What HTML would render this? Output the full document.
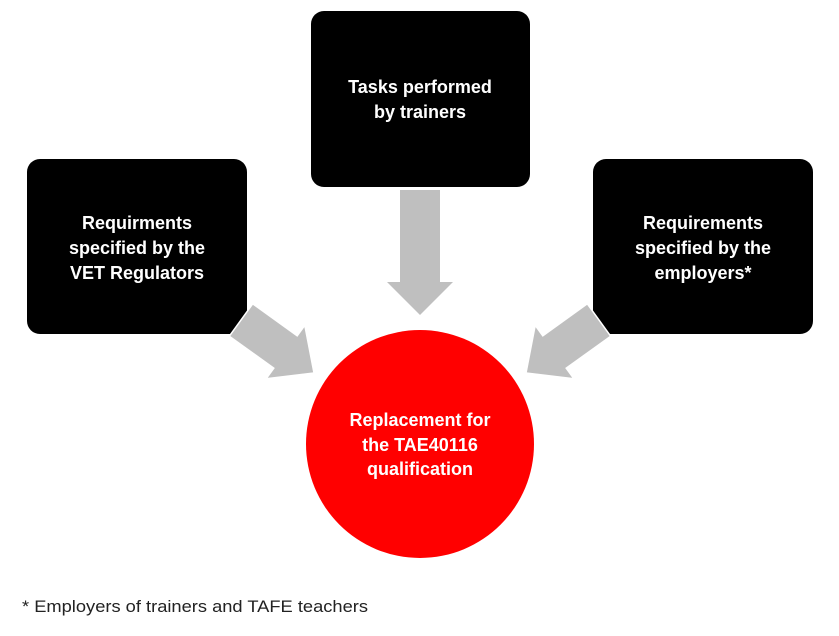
<!DOCTYPE html>
<html><head><meta charset="utf-8"><style>
html,body{margin:0;padding:0;background:#fff;width:839px;height:636px;overflow:hidden}
text{font-family:"Liberation Sans",sans-serif;}
</style></head><body>
<svg width="839" height="636" viewBox="0 0 839 636" xmlns="http://www.w3.org/2000/svg">
<rect x="311" y="11" width="219" height="176" rx="13" fill="#000"/>
<rect x="27" y="159" width="220" height="175" rx="13" fill="#000"/>
<rect x="593" y="159" width="220" height="175" rx="13" fill="#000"/>
<polygon points="400,190 440,190 440,282 453,282 420,315 387,282 400,282" fill="#bfbfbf"/>
<polygon points="252.7,303.8 297.2,335.8 304.8,325.3 314,373 266.2,378.7 273.8,368.2 229.3,336.2" fill="#bfbfbf" stroke="#fff" stroke-width="1.5"/>
<polygon points="587.3,303.8 542.8,335.8 535.2,325.3 526,373 573.8,378.7 566.2,368.2 610.7,336.2" fill="#bfbfbf" stroke="#fff" stroke-width="1.5"/>
<circle cx="420" cy="444" r="114" fill="#ff0000"/>
<g fill="#fff" font-weight="bold" font-size="18" text-anchor="middle">
<text x="420" y="93">Tasks performed</text>
<text x="420" y="118">by trainers</text>
<text x="137" y="229">Requirments</text>
<text x="137" y="254">specified by the</text>
<text x="137" y="279">VET Regulators</text>
<text x="703" y="229">Requirements</text>
<text x="703" y="254">specified by the</text>
<text x="703" y="279">employers*</text>
<text x="420" y="426">Replacement for</text>
<text x="420" y="451">the TAE40116</text>
<text x="420" y="475">qualification</text>
</g>
<text x="22" y="612" font-size="17" fill="#222" textLength="346" lengthAdjust="spacingAndGlyphs">* Employers of trainers and TAFE teachers</text>
</svg>
</body></html>
